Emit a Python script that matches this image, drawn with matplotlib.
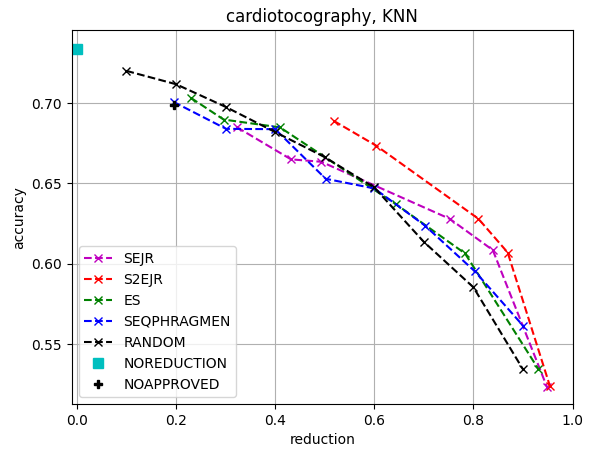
# accuracy vs reduction for the cardiotocography dataset, KNN classifier

import matplotlib
matplotlib.use('Agg')
import matplotlib.pyplot as plt

sejr_x = [0.323, 0.432, 0.493, 0.752, 0.839, 0.948]
sejr_y = [0.685, 0.665, 0.6635, 0.628, 0.6085, 0.5235]

s2ejr_x = [0.518, 0.604, 0.810, 0.869, 0.954]
s2ejr_y = [0.689, 0.6735, 0.628, 0.607, 0.524]

es_x = [0.230, 0.296, 0.410, 0.644, 0.783, 0.931]
es_y = [0.7033, 0.6898, 0.6849, 0.637, 0.6064, 0.5344]

seq_x = [0.195, 0.301, 0.400, 0.502, 0.600, 0.702, 0.803, 0.900]
seq_y = [0.7008, 0.684, 0.6838, 0.6529, 0.6469, 0.6238, 0.5952, 0.5614]

rand_x = [0.1, 0.2, 0.3, 0.4, 0.5, 0.6, 0.7, 0.8, 0.9]
rand_y = [0.7201, 0.7118, 0.6977, 0.682, 0.6664, 0.6475, 0.6136, 0.5853, 0.5342]

noreduction = (0.0, 0.7336)
noapproved = (0.195, 0.6986)

fig = plt.figure(figsize=(5.94, 4.49), dpi=100)
plt.subplots_adjust(left=0.121, right=0.964, top=0.933, bottom=0.1)

plt.plot(sejr_x, sejr_y, 'x--', color='m', label='SEJR')
plt.plot(s2ejr_x, s2ejr_y, 'x--', color='r', label='S2EJR')
plt.plot(es_x, es_y, 'x--', color='g', label='ES')
plt.plot(seq_x, seq_y, 'x--', color='b', label='SEQPHRAGMEN')
plt.plot(rand_x, rand_y, 'x--', color='k', label='RANDOM')
plt.plot([noreduction[0]], [noreduction[1]], 's', color='c', ms=7, label='NOREDUCTION')
plt.plot([noapproved[0]], [noapproved[1]], 'P', color='k', label='NOAPPROVED')

plt.title('cardiotocography, KNN')
plt.xlabel('reduction')
plt.ylabel('accuracy')
plt.xlim(-0.01, 1.0)
plt.ylim(0.5126, 0.7455)
plt.yticks([0.55, 0.60, 0.65, 0.70])
plt.grid(True)
plt.legend(loc='lower left')

plt.savefig('out.png')
